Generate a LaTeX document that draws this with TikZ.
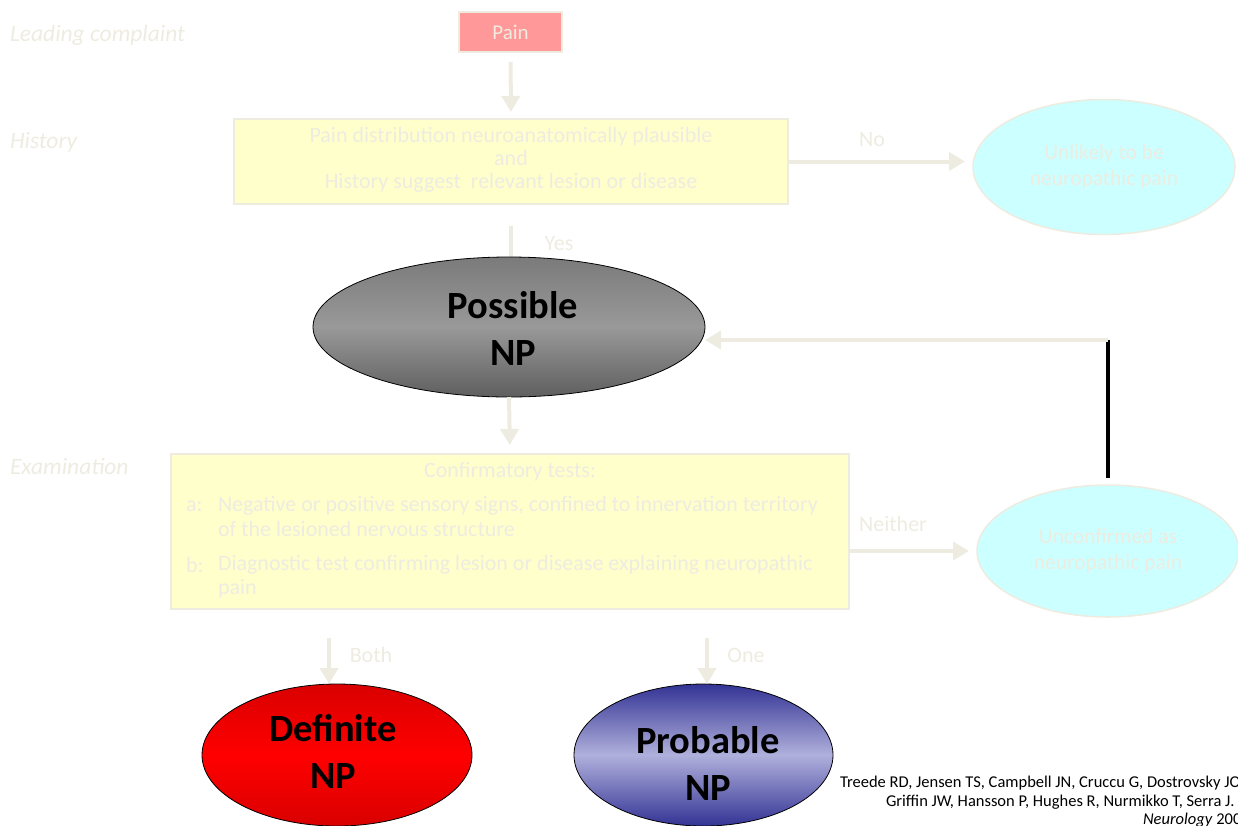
\documentclass[tikz,border=0pt]{standalone}
\usepackage{fontspec}
\setmainfont{Carlito}
\usetikzlibrary{arrows.meta,shapes.geometric}
\definecolor{faint}{HTML}{EEECE1}
\definecolor{painred}{HTML}{FF9999}
\definecolor{paleyellow}{HTML}{FFFFCC}
\definecolor{palecyan}{HTML}{CCFFFF}
\definecolor{navy}{HTML}{333395}
\definecolor{lavender}{HTML}{B0B0DC}
\begin{document}
\begin{tikzpicture}[x=1pt,y=-1pt,
  every node/.style={inner sep=0pt, outer sep=0pt},
  faintlabel/.style={text=faint, font=\fontsize{22}{23}\selectfont},
  rowlabel/.style={text=faint, font=\fontsize{23.5}{24}\selectfont\itshape, anchor=west},
  stepbox/.style={draw=faint, line width=2pt, fill=paleyellow},
  outcome/.style={ellipse, draw=faint, line width=1.5pt, fill=palecyan,
    text=faint, align=center, font=\fontsize{21.5}{26}\selectfont},
  verdict/.style={ellipse, draw=black, line width=0.8pt},
  verdicttext/.style={align=center, font=\fontsize{38.5}{47}\selectfont\bfseries},
  flow/.style={draw=faint, line width=4pt, -{Triangle[width=18pt,length=16pt]}},
  citetext/.style={anchor=west, font=\fontsize{16.5}{18}\selectfont}
]
\useasboundingbox (0,0) rectangle (1238,825);

% row labels
\node[rowlabel] (lblcomplaint) at (10,35) {Leading complaint};
\node[rowlabel] (lblhistory) at (10,142) {History};
\node[rowlabel] (lblexam) at (10,466) {Examination};

% leading complaint
\node[draw=faint, line width=2pt, fill=painred, minimum width=103pt, minimum height=40pt,
      text=faint, font=\fontsize{21}{23}\selectfont] (pain) at (510.5,32) {Pain};

% history box
\node[stepbox, minimum width=554pt, minimum height=85pt] (hist) at (511,161.5) {};
\node[faintlabel, align=center] (histtext) at (511,160)
  {Pain distribution neuroanatomically plausible\\and\\History suggest\ \ relevant lesion or disease};

% unlikely outcome
\node[outcome, minimum width=262pt, minimum height=135pt] (unlikely) at (1104,167)
  {Unlikely to be\\neuropathic pain};

% connector hidden under the top of the possible-NP ellipse
\draw[draw=faint, line width=4pt, shorten <=22pt] (hist.south) -- (511,262);

% possible NP
\node[verdict, minimum width=392pt, minimum height=140pt,
      top color=black!52, bottom color=black!63, middle color=black!40] (possible) at (509,327) {};
\node[verdicttext] (possibletext) at (513,328) {Possible\\NP};

% examination box
\node[stepbox, minimum width=678pt, minimum height=155pt] (exam) at (510,531.5) {};
\node[faintlabel] (examhead) at (510,472) {Confirmatory tests:};
\node[faintlabel, anchor=west] (itema) at (186,506) {a:};
\node[faintlabel, anchor=west] (itema1) at (218,506) {Negative or positive sensory signs, confined to innervation territory};
\node[faintlabel, anchor=west] (itema2) at (218,529) {of the lesioned nervous structure};
\node[faintlabel, anchor=west] (itemb) at (186,565) {b:};
\node[faintlabel, anchor=west] (itemb1) at (218,565) {Diagnostic test confirming lesion or disease explaining neuropathic};
\node[faintlabel, anchor=west] (itemb2) at (218,589) {pain};

% unconfirmed outcome
\node[outcome, minimum width=262pt, minimum height=132pt] (unconf) at (1108,551)
  {Unconfirmed as\\neuropathic pain};

% definite and probable NP
\node[verdict, minimum width=270pt, minimum height=142pt,
      top color=red!85!black, bottom color=red!85!black, middle color=red] (definite) at (337,755) {};
\node[verdicttext] (definitetext) at (333,751) {Definite\\NP};
\node[verdict, minimum width=259pt, minimum height=142pt,
      top color=navy, bottom color=navy, middle color=lavender] (probable) at (703.5,755) {};
\node[verdicttext] (probabletext) at (708,763) {Probable\\NP};

% connectors
\draw[flow, shorten <=10pt, shorten >=7pt] (pain.south) -- (hist.north);
\draw[flow, shorten >=8pt] (hist.east) -- (hist.east -| unlikely.west);
\node[faintlabel] (lblno) at (872,140) {No};
\node[faintlabel] (lblyes) at (559,244) {Yes};
\draw[flow, shorten >=9pt] (possible.south) -- (exam.north);
\draw[flow, shorten >=8pt] (unconf.west -| exam.east) -- (unconf.west);
\node[faintlabel] (lblneither) at (893,524) {Neither};

\coordinate (bothstart) at (329,638);
\coordinate (onestart) at (707,638);
\draw[flow] (bothstart) -- (bothstart |- definite.north);
\node[faintlabel] (lblboth) at (371,655) {Both};
\draw[flow] (onestart) -- (onestart |- probable.north);
\node[faintlabel] (lblone) at (746,655) {One};

% feedback from unconfirmed back to possible
\coordinate (fbcorner) at (1108,340);
\draw[black, line width=4pt, shorten >=7pt] (fbcorner) -- (fbcorner |- unconf.north);
\draw[flow] (fbcorner) -- (fbcorner -| possible.east);

% citation
\node[citetext] (cite1) at (840,783)
  {Treede RD, Jensen TS, Campbell JN, Cruccu G, Dostrovsky JO,};
\node[citetext] (cite2) at (886,802)
  {Griffin JW, Hansson P, Hughes R, Nurmikko T, Serra J.};
\node[citetext] (cite3) at (1143,820)
  {\textit{Neurology} 2008};
\end{tikzpicture}
\end{document}
